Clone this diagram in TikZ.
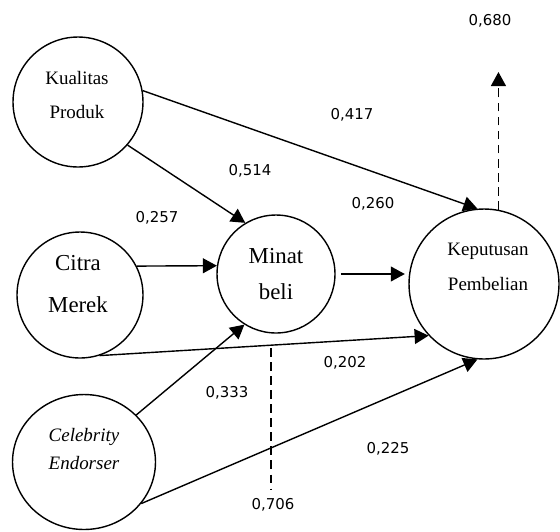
\documentclass[tikz,border=0pt]{standalone}
\usepackage{fontspec}
\setmainfont{Liberation Serif}
\newfontfamily\numfont{DejaVu Sans}
\usetikzlibrary{positioning, calc, shapes.geometric, arrows.meta}

\begin{document}
\begin{tikzpicture}[x=0.02cm, y=-0.02cm,
  var/.style={draw, line width=0.8pt, circle, inner sep=0pt},
  varname/.style={align=center, font=\fontsize{10.8}{19.3}\selectfont},
  coef/.style={font=\numfont\fontsize{8.5}{10}\selectfont},
  link/.style={line width=0.8pt, -{Triangle[length=8pt, width=8.5pt]}},
  resid/.style={line width=0.9pt, dash pattern=on 5pt off 3pt}]
  \useasboundingbox (0,0) rectangle (560,531);
  % latent variables
  \node[var, minimum size=2.6cm] (kp) at (78,102) {};
  \node[var, minimum size=2.52cm] (cm) at (80,295) {};
  \node[var, ellipse, minimum width=2.86cm, minimum height=2.7cm] (ce) at (84,462) {};
  \node[var, minimum size=2.36cm] (mb) at (276,274) {};
  \node[var, minimum size=3.0cm] (kep) at (484,284) {};
  \node[varname] (kp-txt) at (77,95) {Kualitas\\Produk};
  \node[varname, font=\fontsize{13}{24.4}\selectfont] (cm-txt) at (78,284) {Citra\\Merek};
  \node[varname, font=\fontsize{13}{21}\selectfont] (mb-txt) at (276,274) {Minat\\beli};
  \node[varname, font=\fontsize{10.8}{20}\selectfont] (kep-txt) at (488,267) {Keputusan\\Pembelian};
  \node[varname, font=\itshape\fontsize{10.8}{16}\selectfont] (ce-txt) at (84,449) {Celebrity\\Endorser};
  % paths
  \draw[link] (kp.10) -- (kep.95);
  \draw[link] (kp.-41) -- (mb.121);
  \draw[link] (cm.27) -- (mb.172);
  \draw[link, shorten <=3pt, shorten >=2pt] (mb.east) -- (mb.east -| kep.west);
  \draw[link] (cm.-72) -- (kep.223);
  \draw[link] (ce.42) -- (mb.238);
  \draw[link] (ce.-36) -- (kep.265);
  % r square
  \coordinate (r-kep) at (498,72);
  \draw[link, resid] (kep.79) -- (kep.79 |- r-kep);
  \coordinate (r-mb-a) at (271,348);
  \coordinate (r-mb-b) at (271,490);
  \draw[resid] (r-mb-a) -- (r-mb-b);
  % coefficients
  \node[coef] (c-kp-kep) at (352,115) {0,417};
  \node[coef] (c-kp-mb) at (250,171) {0,514};
  \node[coef] (c-cm-mb) at (157,218) {0,257};
  \node[coef] (c-mb-kep) at (373,204) {0,260};
  \node[coef] (c-cm-kep) at (345,363) {0,202};
  \node[coef] (c-ce-mb) at (227,393) {0,333};
  \node[coef] (c-ce-kep) at (388,449) {0,225};
  \node[coef] (r2-kep) at (490,21) {0,680};
  \node[coef] (r2-mb) at (273,505) {0,706};
\end{tikzpicture}
\end{document}
